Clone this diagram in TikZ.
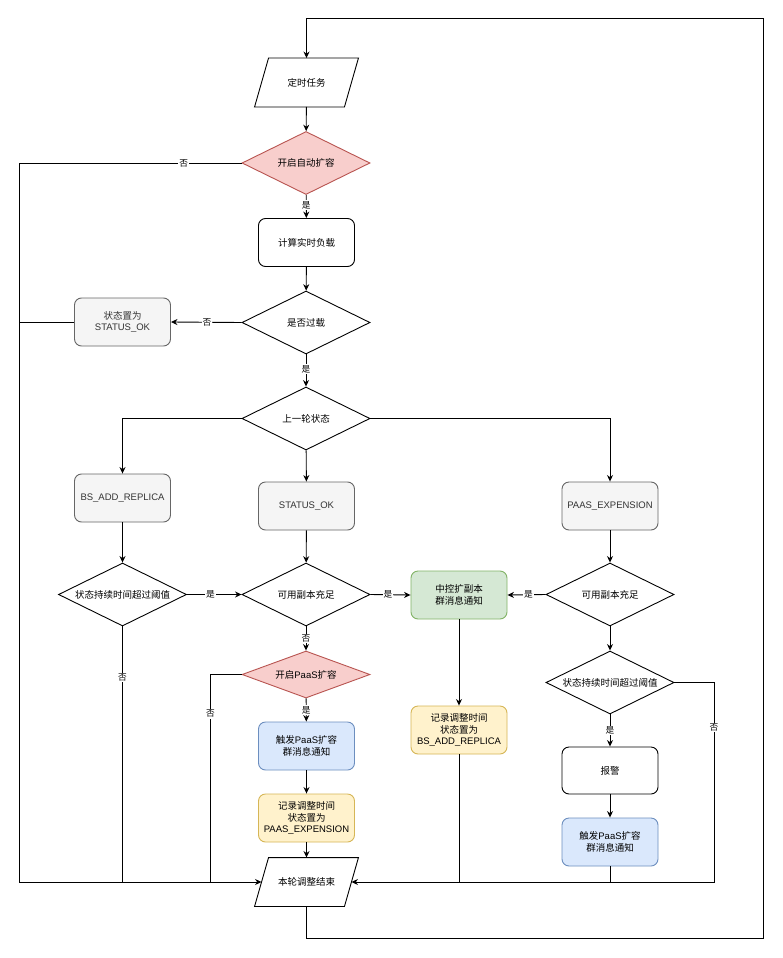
\documentclass[tikz,border=0pt]{standalone}
\usepackage{fontspec}
\setmainfont{Liberation Sans}
\newfontfamily\cjk{Noto Sans CJK SC}
\newcommand\zh[1]{{\cjk #1}}
\usetikzlibrary{shapes.geometric,arrows.meta}
\definecolor{grayF}{HTML}{F5F5F5}
\definecolor{grayD}{HTML}{666666}
\definecolor{grayT}{HTML}{333333}
\definecolor{redF}{HTML}{F8CECC}
\definecolor{redD}{HTML}{B85450}
\definecolor{blueF}{HTML}{DAE8FC}
\definecolor{blueD}{HTML}{6C8EBF}
\definecolor{greenF}{HTML}{D5E8D4}
\definecolor{greenD}{HTML}{82B366}
\definecolor{yelF}{HTML}{FFF2CC}
\definecolor{yelD}{HTML}{D6B656}
\tikzset{
  base/.style={font=\fontsize{9.5}{11.8}\selectfont, align=center, inner sep=0pt, line width=0.9pt},
  boxw/.style={base, draw=black, fill=white, rounded corners=7pt, minimum width=96pt, minimum height=48pt},
  boxg/.style={boxw, draw=grayD, fill=grayF, text=grayT},
  boxb/.style={boxw, draw=blueD, fill=blueF},
  boxgr/.style={boxw, draw=greenD, fill=greenF},
  boxy/.style={boxw, draw=yelD, fill=yelF},
  dia/.style={base, diamond, aspect=2, draw=black, fill=white, minimum width=128pt, minimum height=63pt},
  diar/.style={dia, draw=redD, fill=redF},
  para/.style={base, minimum width=103pt, minimum height=48pt},
  paraline/.style={draw=black, line width=0.9pt, fill=white},
  line/.style={draw=black, line width=0.9pt},
  arr/.style={line, -{Stealth[length=6.5pt,width=6pt]}},
  lbl/.style={font=\fontsize{8.7}{10}\selectfont, fill=white, inner sep=1pt, text=black}
}
\begin{document}
\begin{tikzpicture}[x=1pt,y=-1pt]
\useasboundingbox (0,0) rectangle (782,958);
\fill[white] (0,0) rectangle (782,958);

% parallelogram nodes
\node[para] (start) at (306.5,82.5) {};
\path[paraline] ([xshift=14pt]start.north west) -- (start.north east) -- ([xshift=-14pt]start.south east) -- (start.south west) -- cycle;
\node[base] at (start) {\zh{定时任务}};

\node[para] (end) at (306.5,882) {};
\path[paraline] ([xshift=14pt]end.north west) -- (end.north east) -- ([xshift=-14pt]end.south east) -- (end.south west) -- cycle;
\node[base] at (end) {\zh{本轮调整结束}};

\node[diar] (auto) at (306,163) {\zh{开启自动扩容}};
\node[boxw] (calc) at (306.5,242.5) {\zh{计算实时负载}};
\node[dia] (over) at (306,322.5) {\zh{是否过载}};
\node[boxg] (ok1) at (122.5,322) {\zh{状态置为}\\STATUS\_OK};
\node[dia] (prev) at (306,418.5) {\zh{上一轮状态}};
\node[boxg] (bs) at (122.5,498) {BS\_ADD\_REPLICA};
\node[boxg] (sok) at (306.5,506) {STATUS\_OK};
\node[boxg] (pe) at (610,506) {PAAS\_EXPENSION};
\node[dia] (dur1) at (122.5,594.5) {\zh{状态持续时间超过阈值}};
\node[dia] (rep1) at (306,594.5) {\zh{可用副本充足}};
\node[boxgr] (zk) at (459,595) {\zh{中控扩副本}\\\zh{群消息通知}};
\node[dia] (rep2) at (610,594.5) {\zh{可用副本充足}};
\node[diar, minimum height=47pt] (paas) at (306,674.5) {\zh{开启}PaaS\zh{扩容}};
\node[dia] (dur2) at (610,682.5) {\zh{状态持续时间超过阈值}};
\node[boxy] (rec2) at (459,730) {\zh{记录调整时间}\\\zh{状态置为}\\BS\_ADD\_REPLICA};
\node[boxb] (trig1) at (306.5,746) {\zh{触发}PaaS\zh{扩容}\\\zh{群消息通知}};
\node[boxw, minimum height=47pt] (alarm) at (610,770.5) {\zh{报警}};
\node[boxy] (rec1) at (306.5,818) {\zh{记录调整时间}\\\zh{状态置为}\\PAAS\_EXPENSION};
\node[boxb] (trig2) at (610,842) {\zh{触发}PaaS\zh{扩容}\\\zh{群消息通知}};

\coordinate (tr) at (763,18);
\coordinate (br) at (763,938);
\coordinate (lx) at (19,163);
\coordinate (rx) at (714,682.5);
\coordinate (endL) at ([xshift=7pt]end.west);
\coordinate (endR) at ([xshift=-7pt]end.east);

% loop back
\draw[arr] (end.south) -- (end.south |- br) -- (br) -- (tr) -- (start.north |- tr) -- (start.north);
\draw[arr] (start) -- (auto);
\draw[arr] (auto.west) -- node[lbl,pos=0.26]{\zh{否}} (lx) -- (lx |- end) -- (endL);
\draw[arr] (auto) -- node[lbl,pos=0.45]{\zh{是}} (calc);
\draw[arr] (calc) -- (over);
\draw[arr] (over.west) -- node[lbl,pos=0.49]{\zh{否}} (ok1.east);
\draw[line] (ok1.west) -- (ok1.west -| lx);
\draw[arr] (over) -- node[lbl,pos=0.45]{\zh{是}} (prev);
\draw[arr] (prev.west) -| (bs.north);
\draw[arr] (prev) -- (sok);
\draw[arr] (prev.east) -| (pe.north);
\draw[arr] (bs) -- (dur1);
\draw[arr] (sok) -- (rep1);
\draw[arr] (pe) -- (rep2);
\draw[arr] (dur1.east) -- node[lbl,pos=0.43]{\zh{是}} (rep1.west);
\draw[arr] (rep1.east) -- node[lbl,pos=0.44]{\zh{是}} (zk.west);
\draw[arr] (rep2.west) -- node[lbl,pos=0.45]{\zh{是}} (zk.east);
\draw[line] (dur1.south) -- node[lbl,pos=0.2]{\zh{否}} (dur1.south |- end);
\draw[arr] (rep1) -- node[lbl,pos=0.5]{\zh{否}} (paas);
\draw[line] (paas.west) -- ++(-31,0) coordinate (pl) -- node[lbl,pos=0.19]{\zh{否}} (pl |- end);
\draw[arr] (paas) -- node[lbl,pos=0.5]{\zh{是}} (trig1);
\draw[arr] (trig1) -- (rec1);
\draw[arr] (rec1) -- (end);
\draw[arr] (zk) -- (rec2);
\draw[line] (rec2.south) -- (rec2.south |- end);
\draw[arr] (rep2) -- (dur2);
\draw[arr] (dur2.east) -- (rx) -- node[lbl,pos=0.225]{\zh{否}} (rx |- end) -- (endR);
\draw[arr] (dur2) -- node[lbl,pos=0.5]{\zh{是}} (alarm);
\draw[arr] (alarm) -- (trig2);
\draw[line] (trig2.south) -- (trig2.south |- end);
\end{tikzpicture}
\end{document}
